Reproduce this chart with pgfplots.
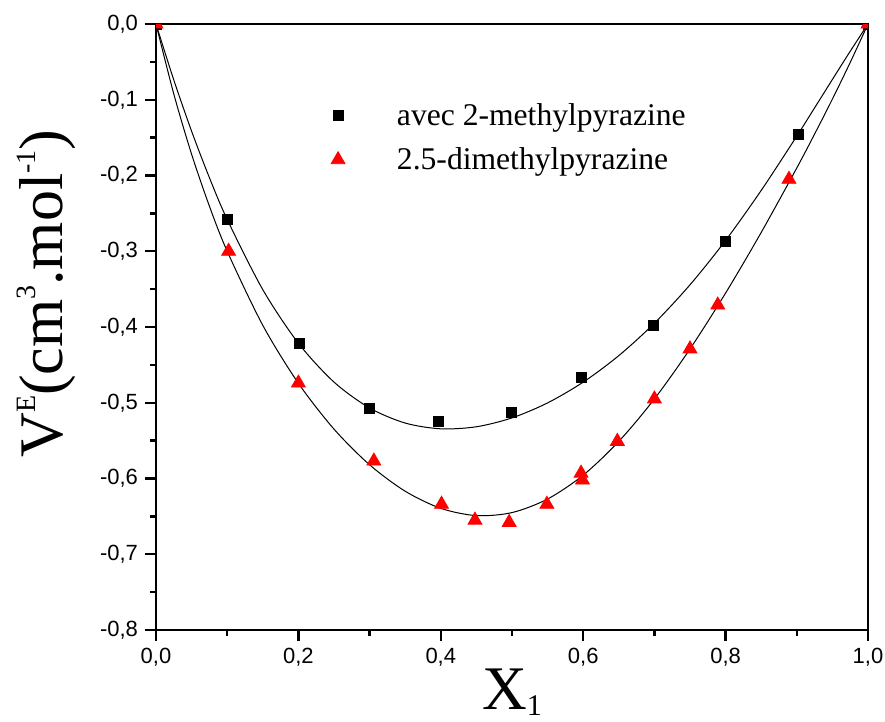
\documentclass[border=0pt]{standalone}
\usepackage{pgfplots}
\pgfplotsset{compat=1.18}
\usepackage{fontspec}
\setmainfont{Liberation Serif}
\newfontfamily\arialf{Liberation Sans}
\newcommand\sups[1]{\raisebox{0.42em}{\fontsize{14}{14}\selectfont #1}}
\newcommand\subs[1]{\raisebox{-0.1em}{\fontsize{15}{15}\selectfont #1}}
\begin{document}
\begin{tikzpicture}
\useasboundingbox (-78pt,-46pt) rectangle (364.5pt,315pt);
\begin{axis}[
  at={(0,0)}, anchor=south west,
  width=356pt, height=303pt, scale only axis,
  xmin=0, xmax=1, ymin=-0.8, ymax=0,
  axis line style={line width=1.4pt},
  tick align=outside,
  xtick pos=left, ytick pos=left,
  xtick={0,0.2,0.4,0.6,0.8,1.0},
  ytick={-0.8,-0.7,-0.6,-0.5,-0.4,-0.3,-0.2,-0.1,0},
  minor x tick num=1, minor y tick num=1,
  major tick length=5.5pt, minor tick length=3pt,
  major tick style={line width=1.2pt, black},
  minor tick style={line width=1.2pt, black},
  /pgf/number format/.cd, use comma, fixed, fixed zerofill, precision=1, assume math mode=true,
  /pgfplots/.cd,
  ticklabel style={font=\arialf\fontsize{11}{13}\selectfont},
  xlabel={X\subs{1}},
  ylabel={V\sups{E}(cm\sups{3}.mol\sups{-1})},
  label style={font=\fontsize{31}{36}\selectfont},
  xlabel style={at={(axis description cs:0.5,-0.131)}, anchor=base},
  ylabel style={at={(axis description cs:-0.132,0.555)}, anchor=base},
  clip marker paths=true,
  legend cell align=left,
  legend style={draw=none, fill=none, at={(axis description cs:0.237,0.883)}, anchor=north west,
    font=\fontsize{15.8}{19}\selectfont, row sep=5.5pt,
    /tikz/every odd column/.append style={column sep=24pt}},
]
\addplot[black, line width=0.5pt, smooth, forget plot] coordinates {
(0,0) (0.025,-0.0739) (0.05,-0.1415) (0.075,-0.2028) (0.1,-0.2580) (0.15,-0.3507)
(0.2,-0.4214) (0.25,-0.4727) (0.3,-0.5069) (0.35,-0.5268) (0.4,-0.5344) (0.45,-0.5317)
(0.5,-0.5200) (0.55,-0.5002) (0.6,-0.4728) (0.65,-0.4378) (0.7,-0.3950) (0.75,-0.3443)
(0.8,-0.2857) (0.85,-0.2197) (0.9,-0.1480) (0.925,-0.1107) (0.95,-0.0732) (0.975,-0.0360) (1,0)};
\addplot[black, line width=0.5pt, smooth, forget plot] coordinates {
(0,0) (0.025,-0.0924) (0.05,-0.1719) (0.075,-0.2404) (0.1,-0.3000) (0.15,-0.3978)
(0.2,-0.4743) (0.25,-0.5348) (0.3,-0.5819) (0.35,-0.6168) (0.4,-0.6394) (0.45,-0.6490)
(0.5,-0.6450) (0.55,-0.6271) (0.6,-0.5956) (0.65,-0.5510) (0.7,-0.4950) (0.75,-0.4290)
(0.8,-0.3552) (0.85,-0.2752) (0.9,-0.1900) (0.925,-0.1453) (0.95,-0.0991) (0.975,-0.0508) (1,0)};
\addplot[only marks, mark=square*, mark size=2.5pt, black] coordinates {
(0,0) (0.0997,-0.258) (0.201,-0.422) (0.300,-0.508) (0.396,-0.525) (0.4995,-0.513)
(0.598,-0.466) (0.698,-0.398) (0.800,-0.2865) (0.902,-0.146) (1,0)};
\addlegendentry{avec 2-methylpyrazine}
\addplot[only marks, mark=triangle*, mark size=4pt, red, mark options={fill=red, draw=red}] coordinates {
(0,0) (0.102,-0.300) (0.200,-0.474) (0.306,-0.577) (0.401,-0.634) (0.448,-0.655)
(0.496,-0.658) (0.549,-0.634) (0.597,-0.593) (0.599,-0.602) (0.648,-0.551)
(0.700,-0.495) (0.750,-0.429) (0.789,-0.371) (0.889,-0.205) (1,0)};
\addlegendentry{2.5-dimethylpyrazine}
\end{axis}
\end{tikzpicture}
\end{document}
